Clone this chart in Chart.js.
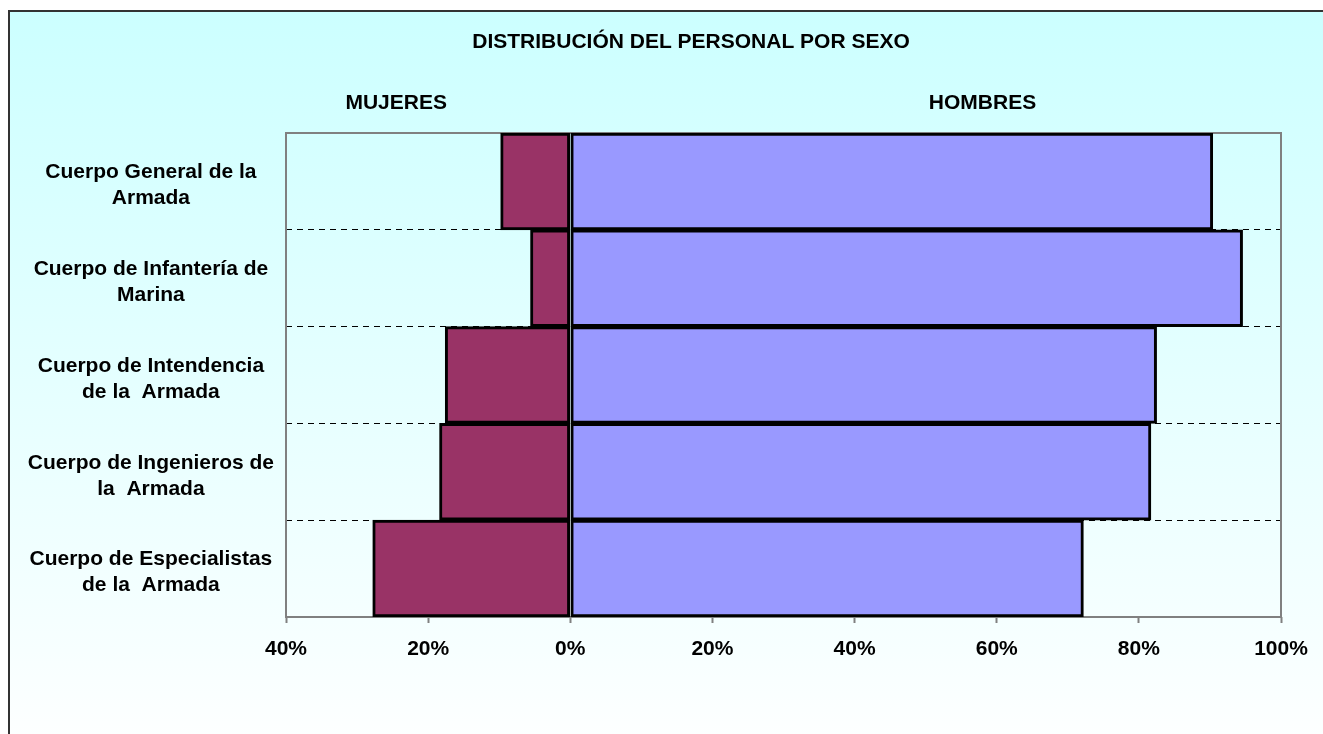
<!DOCTYPE html>
<html>
<head>
<meta charset="utf-8">
<script src="https://cdn.jsdelivr.net/npm/chart.js@4/dist/chart.umd.min.js"></script>
<style>
  html, body { margin: 0; padding: 0; width: 1323px; height: 734px; overflow: hidden; background: #fff; }
  .frame {
    position: absolute; left: 8px; top: 10px; width: 1400px; height: 800px;
    border: 2px solid #333; box-sizing: border-box;
    background: linear-gradient(to bottom, #ccffff 0%, #ffffff 95%);
  }
  #wrap { position: absolute; left: 0; top: 0; width: 1323px; height: 734px; }
</style>
</head>
<body>
<div class="frame"></div>
<div id="wrap"><canvas id="chart" width="1323" height="734"></canvas></div>
<script>
// categories (one array per wrapped label)
const categories = [
  ["Cuerpo General de la", "Armada"],
  ["Cuerpo de Infantería de", "Marina"],
  ["Cuerpo de Intendencia", "de la  Armada"],
  ["Cuerpo de Ingenieros de", "la  Armada"],
  ["Cuerpo de Especialistas", "de la  Armada"]
];

// percentages, women plotted to the left (negative)
const mujeres = [9.8, 5.6, 17.6, 18.4, 27.8];
const hombres = [90.4, 94.6, 82.5, 81.7, 72.2];

const chartTitle = "DISTRIBUCIÓN DEL PERSONAL POR SEXO";
const seriesNames = ["MUJERES", "HOMBRES"];
// x values (in %) where the series names are centred
const seriesNameAt = [-24.5, 58];

const FONT = "'Liberation Sans', Arial, sans-serif";

const headerPlugin = {
  id: "header",
  beforeDatasetsDraw(chart) {
    const { ctx, chartArea: a } = chart;
    ctx.save();
    ctx.strokeStyle = "#808080";
    ctx.lineWidth = 2;
    ctx.strokeRect(a.left, a.top, a.right - a.left, a.bottom - a.top);
    ctx.restore();
  },
  afterDraw(chart) {
    const { ctx, scales } = chart;
    ctx.save();
    ctx.fillStyle = "#000";
    ctx.textAlign = "center";
    ctx.textBaseline = "middle";
    ctx.font = "bold 21px " + FONT;
    ctx.fillText(chartTitle, 691, 42);
    seriesNames.forEach((name, i) => {
      ctx.fillText(name, scales.x.getPixelForValue(seriesNameAt[i]), 103);
    });
    ctx.restore();
  }
};

new Chart(document.getElementById("chart"), {
  type: "bar",
  data: {
    labels: categories,
    datasets: [
      {
        label: seriesNames[0],
        data: mujeres.map(v => -v),
        backgroundColor: "#993366",
        borderColor: "#000",
        borderWidth: 3,
        borderSkipped: false,
        barPercentage: 1,
        categoryPercentage: 1
      },
      {
        label: seriesNames[1],
        data: hombres,
        backgroundColor: "#9999ff",
        borderColor: "#000",
        borderWidth: 3,
        borderSkipped: false,
        barPercentage: 1,
        categoryPercentage: 1
      }
    ]
  },
  options: {
    indexAxis: "y",
    responsive: false,
    animation: false,
    layout: { padding: { top: 133, left: 8, right: 42, bottom: 37 } },
    plugins: {
      legend: { display: false },
      title: { display: false },
      tooltip: { enabled: false }
    },
    scales: {
      x: {
        stacked: true,
        min: -40,
        max: 100,
        afterFit: (s) => { s.height = 80; },
        ticks: {
          stepSize: 20,
          callback: (v) => Math.abs(v) + "%",
          color: "#000",
          padding: 14,
          font: { family: FONT, size: 21, weight: "bold" }
        },
        grid: {
          drawOnChartArea: false,
          drawTicks: true,
          tickLength: 6,
          tickWidth: 2,
          tickColor: "#808080"
        },
        border: { display: false }
      },
      y: {
        stacked: true,
        afterFit: (s) => { s.width = 278; },
        ticks: {
          color: "#000",
          crossAlign: "center",
          padding: 12,
          labelOffset: 4,
          font: { family: FONT, size: 21, weight: "bold", lineHeight: 1.24 }
        },
        grid: {
          offset: true,
          drawTicks: false,
          lineWidth: 1,
          color: (c) => (c.index === 0 || c.index === categories.length) ? "transparent" : "#000"
        },
        border: { display: false, dash: [6, 5] }
      }
    }
  },
  plugins: [headerPlugin]
});
</script>
</body>
</html>
